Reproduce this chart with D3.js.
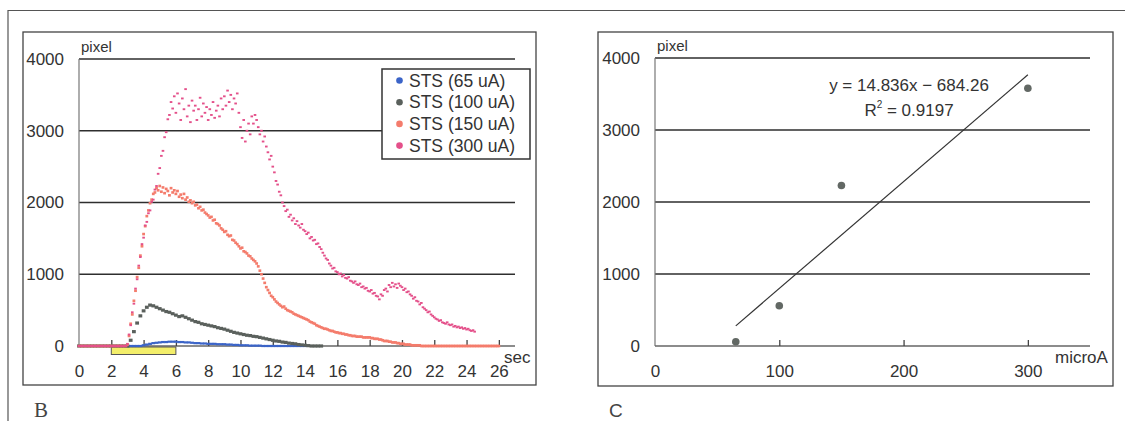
<!DOCTYPE html>
<html>
<head>
<meta charset="utf-8">
<script src="https://cdn.jsdelivr.net/npm/d3@7"></script>
<style>
  body { margin: 0; background: #fff; }
  svg { display: block; font-family: "Liberation Sans", Arial, sans-serif; }
</style>
</head>
<body>
<svg id="chart" width="1125" height="421"></svg>
<script>
// ---- data (panel B: time courses, panel C: peak vs current) ----
const seriesNames = ["STS (65 uA)", "STS (100 uA)", "STS (150 uA)", "STS (300 uA)"];
const seriesColors = ["#3b64c8", "#5a605c", "#f47c6c", "#e4508a"];
const sampleStep = [0.2, 0.2, 0.1, 0.1]; // sec between samples, per series

const sts65 = [
  0,0,0,0,0,0,0,0,0,0,0,0,0,0,0,0,0,0,0,0,
  10,20,30,40,45, 50,55,55,60,60, 60,55,55,50,50, 45,40,40,35,35,
  30,30,30,25,25, 25,20,20,15,15, 10,10,10,5,5, 5,5,0,0,0,
  0,0,0,0,0, 0,0,0,0,0,0
];
const sts100 = [
  0,0,0,0,0,0,0,0,0,0,0,0,0,0,0,0,
  80,200,320,420,490, 540,570,560,540,520, 500,480,470,450,430,
  410,420,400,380,360, 340,330,310,300,290, 280,270,255,245,235,
  220,205,190,180,170, 160,150,145,135,130, 120,110,100,90,80,
  70,65,55,50,40, 35,30,20,15,10, 5,0,0,0,0
];
const sts150 = [
  0,0,0,0,0,0,0,0,0,0, 0,0,0,0,0,0,0,0,0,0, 0,0,0,0,0,0,0,0,0,0,
  20,140,310,440,630,770,960,1090,1260,1390,
  1560,1670,1810,1890,1990,2040,2120,2140,2200,2170,
  2230,2150,2210,2130,2190,2160,2100,2200,2140,2170,
  2120,2160,2080,2110,2060,2120,2040,2070,2010,2030,
  1990,2010,1960,1970,1920,1940,1890,1900,1860,1840,
  1820,1790,1800,1750,1760,1710,1700,1680,1640,1620,
  1590,1600,1550,1530,1540,1480,1470,1440,1420,1390,
  1360,1370,1320,1310,1290,1260,1250,1220,1200,1180,
  1150,1110,1050,1000,940,880,820,780,740,700,
  680,650,620,600,580,560,540,550,520,500,
  490,480,470,450,440,430,420,410,400,390,
  380,370,360,340,330,320,310,290,280,270,
  260,250,240,240,230,220,210,210,200,190,
  190,180,180,170,170,160,160,150,150,140,
  140,140,130,130,130,130,120,120,120,120,
  120,110,110,100,100,100,90,90,80,70,
  70,70,60,60,50,50,50,40,40,30,
  30,30,20,20,20,20,10,10,10,10,
  10,10,0,0,0,0,0,0,0,0,
  0,0,0,0,0,0,0,0,0,0, 0,0,0,0,0,0,0,0,0,0,
  0,0,0,0,0,0,0,0,0,0, 0,0,0,0,0,0,0,0,0,0,0
];
const sts300 = [
  0,0,0,0,0,0,0,0,0,0, 0,0,0,0,0,0,0,0,0,0, 0,0,0,0,0,0,0,0,0,0,
  30,160,290,470,590,800,930,1120,1240,1420,
  1510,1680,1730,1850,1890,2010,2040,2180,2230,2400,
  2480,2650,2720,2910,2980,3160,3220,3400,3310,3480,
  3250,3520,3380,3150,3450,3300,3580,3200,3350,3120,
  3420,3280,3350,3150,3300,3460,3200,3380,3250,3330,
  3150,3300,3220,3400,3180,3280,3350,3200,3450,3300,
  3480,3350,3560,3400,3500,3300,3450,3380,3520,3250,
  3050,2900,3150,2850,3000,3100,2950,3200,3100,3220,
  3150,3050,2950,3000,2850,2920,2780,2700,2600,2650,
  2500,2420,2300,2250,2150,2100,2000,1950,1880,1900,
  1800,1830,1750,1780,1700,1740,1680,1650,1700,1620,
  1600,1560,1580,1500,1520,1470,1480,1420,1430,1380,
  1350,1300,1260,1220,1200,1150,1120,1080,1090,1040,
  1030,1000,1010,970,990,950,940,960,910,900,
  880,900,860,850,870,820,830,800,810,770,
  760,780,730,740,700,690,650,720,700,780,
  800,760,850,820,880,830,860,810,870,840,
  820,780,800,750,760,720,700,660,680,630,
  620,580,600,540,520,500,470,480,440,420,
  400,380,370,350,360,330,320,310,330,300,
  290,300,270,280,260,270,250,260,240,250,
  230,240,220,210,220,200
];
const stimulus = [2, 6]; // sec, yellow bar
const timeTicks = [0,2,4,6,8,10,12,14,16,18,20,22,24,26];
const pixelTicks = [0, 1000, 2000, 3000, 4000];

const currents = [65, 100, 150, 300];
const peakPixels = [60, 560, 2230, 3580];
const fitSlope = 14.836, fitIntercept = -684.26, fitR2 = 0.9197;
const currentTicks = [0, 100, 200, 300];

const allSeries = [sts65, sts100, sts150, sts300];

const svg = d3.select("#chart");
const ink = "#333";

// outer frame
svg.append("path")
  .attr("d", "M8,430 L8,10.5 L1130,10.5")
  .attr("fill", "none").attr("stroke", "#555").attr("stroke-width", 1.2);

function panel(box, xr, yr, xDomain, xTicks, xTitle, letter, letterFont) {
  svg.append("rect")
    .attr("x", box[0]).attr("y", box[1])
    .attr("width", box[2] - box[0]).attr("height", box[3] - box[1])
    .attr("fill", "none").attr("stroke", "#444").attr("stroke-width", 1.3);

  const x = d3.scaleLinear().domain(xDomain).range(xr);
  const y = d3.scaleLinear().domain([0, 4000]).range(yr);
  const g = svg.append("g");

  // gridlines
  g.selectAll(".grid").data(pixelTicks.filter(d => d > 0)).enter()
    .append("line")
    .attr("x1", xr[0]).attr("x2", xr[1])
    .attr("y1", d => y(d)).attr("y2", d => y(d))
    .attr("stroke", "#2e2e2e").attr("stroke-width", 1.6);

  // y axis line
  g.append("line")
    .attr("x1", xr[0]).attr("x2", xr[0]).attr("y1", y(4000)).attr("y2", y(0))
    .attr("stroke", "#777").attr("stroke-width", 1.2);

  const yAxis = g.append("g")
    .attr("transform", `translate(${xr[0] - 1},0)`)
    .call(d3.axisLeft(y).tickValues(pixelTicks).tickSize(0).tickPadding(14).tickFormat(d3.format("d")));
  yAxis.select(".domain").remove();
  yAxis.selectAll("text").attr("font-size", 17).attr("fill", ink)
    .attr("font-family", "Liberation Sans, Arial, sans-serif");

  const xAxis = g.append("g")
    .attr("transform", `translate(0,${yr[0]})`)
    .call(d3.axisBottom(x).tickValues(xTicks).tickSizeInner(-6).tickSizeOuter(0).tickPadding(19));
  xAxis.select(".domain").attr("stroke", "#666").attr("stroke-width", 1.6)
    .attr("d", `M${xr[0]},0H${xr[1]}`);
  xAxis.selectAll(".tick line").attr("stroke", "#444").attr("stroke-width", 1.3);
  xAxis.selectAll(".tick").filter(d => d === 0).select("line").remove();
  xAxis.selectAll("text").attr("font-size", 17).attr("fill", ink)
    .attr("font-family", "Liberation Sans, Arial, sans-serif");

  g.append("text").text("pixel")
    .attr("x", xr[0] + 2).attr("y", yr[1] - 7)
    .attr("font-size", 15).attr("fill", ink);
  g.append("text").text(xTitle.text)
    .attr("x", xTitle.x).attr("y", 363)
    .attr("font-size", 17).attr("fill", ink);

  svg.append("text").text(letter)
    .attr("x", box[0] + 11).attr("y", 417)
    .attr("font-family", letterFont).attr("font-size", letterFont.includes("Serif") ? 21 : 19)
    .attr("fill", "#444");

  return { x, y, g };
}

// ---- panel B ----
const B = panel([23, 32, 536, 385], [79, 515], [346, 59], [0, 27], timeTicks,
  { text: "sec", x: 504 }, "B", "Liberation Serif, serif");

// stimulus bar
B.g.append("rect")
  .attr("x", B.x(stimulus[0])).attr("y", 347)
  .attr("width", B.x(stimulus[1]) - B.x(stimulus[0])).attr("height", 7.5)
  .attr("fill", "#f3ee6a").attr("stroke", "#555").attr("stroke-width", 1);

const dotSize = [[3.8, 2.2], [3.8, 3.2], [2.8, 2.6], [2.6, 1.9]];
allSeries.forEach((vals, s) => {
  const pts = vals.map((v, i) => ({ t: i * sampleStep[s], v }));
  B.g.append("g").selectAll("rect").data(pts).enter()
    .append("rect")
    .attr("x", d => B.x(d.t) - dotSize[s][0] / 2)
    .attr("y", d => B.y(d.v) - dotSize[s][1] / 2)
    .attr("width", dotSize[s][0]).attr("height", dotSize[s][1])
    .attr("fill", seriesColors[s]);
});

// legend
const leg = B.g.append("g");
leg.append("rect").attr("x", 382).attr("y", 69).attr("width", 148).attr("height", 90)
  .attr("fill", "#fff").attr("stroke", "#333").attr("stroke-width", 1.5);
seriesNames.forEach((name, i) => {
  leg.append("circle").attr("cx", 399.5).attr("cy", 80.5 + i * 21.7).attr("r", 3.3)
    .attr("fill", seriesColors[i]);
  leg.append("text").text(name).attr("x", 409).attr("y", 86.5 + i * 21.7)
    .attr("font-size", 17.5).attr("fill", ink);
});

// ---- panel C ----
const C = panel([598, 32, 1113, 386], [655, 1090], [346, 58], [0, 350], currentTicks.filter(d => d > 0).concat([0]),
  { text: "microA", x: 1055 }, "C", "Liberation Sans, sans-serif");

const fit = x => fitSlope * x + fitIntercept;
C.g.append("line")
  .attr("x1", C.x(currents[0])).attr("y1", C.y(fit(currents[0])))
  .attr("x2", C.x(currents[currents.length - 1])).attr("y2", C.y(fit(currents[currents.length - 1])))
  .attr("stroke", "#333").attr("stroke-width", 1.2);

C.g.selectAll(".pt").data(currents).enter()
  .append("circle")
  .attr("cx", d => C.x(d)).attr("cy", (d, i) => C.y(peakPixels[i]))
  .attr("r", 3.8).attr("fill", "#626864");

C.g.append("text").text(`y = ${fitSlope}x \u2212 ${Math.abs(fitIntercept)}`)
  .attr("x", 909).attr("y", 91).attr("text-anchor", "middle")
  .attr("font-size", 17).attr("fill", ink);
const r2 = C.g.append("text").attr("x", 909).attr("y", 116).attr("text-anchor", "middle")
  .attr("font-size", 17).attr("fill", ink);
r2.append("tspan").text("R");
r2.append("tspan").text("2").attr("font-size", 10).attr("dy", -8);
r2.append("tspan").text(` = ${fitR2}`).attr("dy", 8);
</script>
</body>
</html>
